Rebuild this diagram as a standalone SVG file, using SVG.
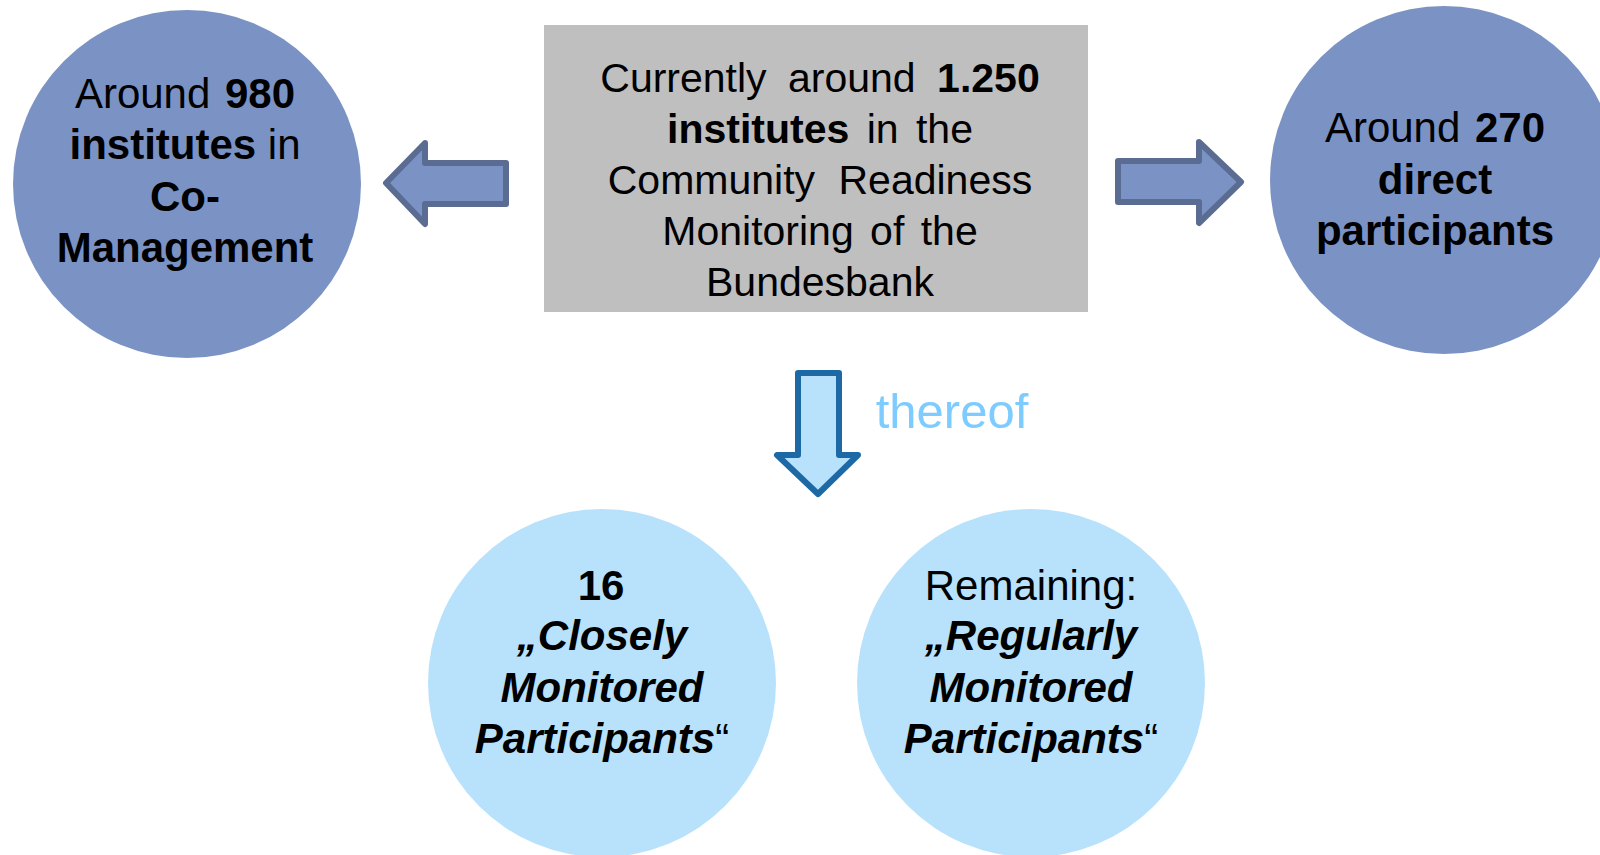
<svg xmlns="http://www.w3.org/2000/svg" width="1600" height="855" viewBox="0 0 1600 855">
<style>
text{font-family:"Liberation Sans",Arial,sans-serif;fill:#000;text-anchor:middle}
.c{font-size:42px}
.m{font-size:41px}
.b{font-weight:bold}
.bi{font-weight:bold;font-style:italic}
.dark{fill:#7B93C4}
.light{fill:#B8E2FC}
.arr{fill:#7B93C4;stroke:#5A6C92;stroke-width:6;stroke-linejoin:round}
.darr{fill:#B8E2FC;stroke:#1C69A6;stroke-width:6;stroke-linejoin:round}
</style>
<rect width="1600" height="855" fill="#fff"/>
<g id="center">
<rect x="544" y="25" width="544" height="287" fill="#BFBFBF"/>
<text class="m" x="820" y="92" word-spacing="10">Currently around <tspan class="b">1.250</tspan></text>
<text class="m" x="820" y="143" word-spacing="6"><tspan class="b">institutes</tspan> in the</text>
<text class="m" x="820" y="194" word-spacing="12">Community Readiness</text>
<text class="m" x="820" y="245" word-spacing="5">Monitoring of the</text>
<text class="m" x="820" y="296">Bundesbank</text>
</g>
<g id="left">
<circle class="dark" cx="187" cy="184" r="174"/>
<text class="c" x="185" y="108" word-spacing="3">Around <tspan class="b">980</tspan></text>
<text class="c" x="185" y="159"><tspan class="b">institutes</tspan> in</text>
<text class="c b" x="185" y="211">Co-</text>
<text class="c b" x="185" y="262">Management</text>
</g>
<g id="right">
<circle class="dark" cx="1444" cy="180" r="174"/>
<text class="c" x="1435" y="142" word-spacing="3">Around <tspan class="b">270</tspan></text>
<text class="c b" x="1435" y="194">direct</text>
<text class="c b" x="1435" y="245">participants</text>
</g>
<g id="closely">
<circle class="light" cx="602" cy="683" r="174"/>
<text class="c b" x="601" y="600">16</text>
<text class="c bi" x="602" y="650">„Closely</text>
<text class="c bi" x="602" y="702">Monitored</text>
<text class="c" x="602" y="753"><tspan class="bi">Participants</tspan>“</text>
</g>
<g id="regularly">
<circle class="light" cx="1031" cy="683" r="174"/>
<text class="c" x="1031" y="600">Remaining:</text>
<text class="c bi" x="1031" y="650">„Regularly</text>
<text class="c bi" x="1031" y="702">Monitored</text>
<text class="c" x="1031" y="753"><tspan class="bi">Participants</tspan>“</text>
</g>
<g id="connectors">
<path class="arr" d="M506,163 L425,163 L425,143 L386,183 L425,224 L425,204 L506,204 Z"/>
<path class="arr" d="M1118,161 L1199,161 L1199,142 L1241,182 L1199,223 L1199,202 L1118,202 Z"/>
<path class="darr" d="M798,373 L839,373 L839,455 L858,455 L818,494 L777,455 L798,455 Z"/>
<text x="952" y="428" style="font-size:49px;fill:#7DCBFF">thereof</text>
</g>
</svg>
